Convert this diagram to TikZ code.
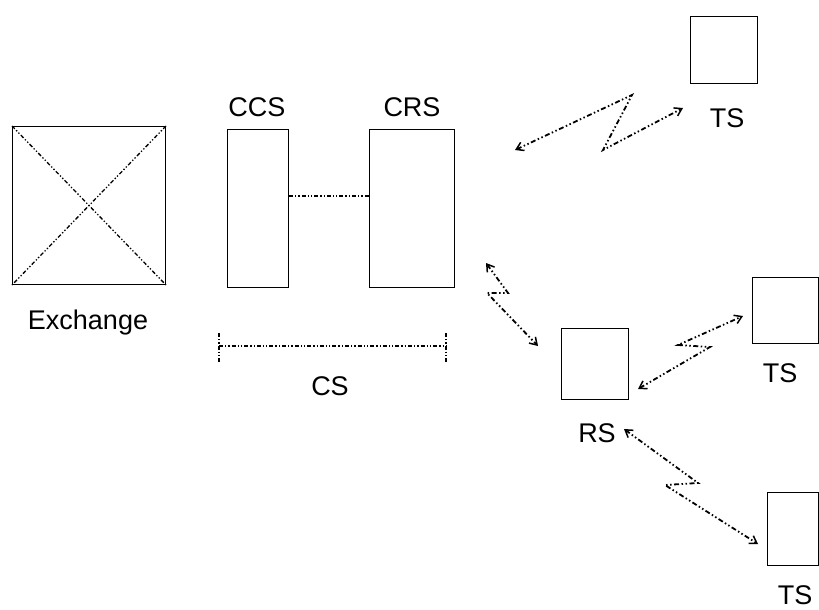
\documentclass[tikz,border=0pt]{standalone}
\usepackage{fontspec}
\setmainfont{Liberation Sans}
\usetikzlibrary{arrows.meta}
\begin{document}
\begin{tikzpicture}[x=1pt,y=-1pt,
  box/.style={draw, line width=1pt, inner sep=0pt, anchor=north west},
  lbl/.style={anchor=base, inner sep=0pt, font=\fontsize{27}{32}\selectfont},
  dd/.style={line width=1.3pt, dash pattern=on 4pt off 2pt on 1.3pt off 2pt on 1.3pt off 2pt},
  bolt/.style={line width=1.8pt, dash pattern=on 5pt off 2.5pt on 1.5pt off 2.5pt on 1.5pt off 2.5pt,
    {Straight Barb[length=7pt,width=9pt,line width=1.5pt]}-{Straight Barb[length=7pt,width=9pt,line width=1.5pt]}}
]
\useasboundingbox (0,0) rectangle (819,610);
% boxes
\node[box, minimum width=153pt, minimum height=158pt] (ex) at (12,126) {};
\node[box, minimum width=61pt, minimum height=158pt] (ccs) at (227,129) {};
\node[box, minimum width=85pt, minimum height=158pt] (crs) at (369,129) {};
\node[box, minimum width=67pt, minimum height=67pt] (ts1) at (690,16) {};
\node[box, minimum width=66pt, minimum height=66pt] (ts2) at (752,277) {};
\node[box, minimum width=67pt, minimum height=71pt] (rs) at (561,328) {};
\node[box, minimum width=51pt, minimum height=73pt] (ts3) at (767,492) {};
% labels
\node[lbl] (lex) at (88,329) {Exchange};
\node[lbl] (lccs) at (257,116) {CCS};
\node[lbl] (lcrs) at (412,116) {CRS};
\node[lbl] (lcs) at (330,395) {CS};
\node[lbl] (lts1) at (727,127) {TS};
\node[lbl] (lts2) at (780,382) {TS};
\node[lbl] (lrs) at (597,442) {RS};
\node[lbl] (lts3) at (795,604) {TS};
% exchange cross
\draw[dd] (ex.north west) -- (ex.south east);
\draw[dd] (ex.north east) -- (ex.south west);
% CCS - CRS link
\draw[dd] (ccs.east |- 0,196) -- (crs.west |- 0,196);
% CS dimension
\coordinate (csl) at (219,346);
\coordinate (csr) at (446,346);
\draw[dd] (csl) -- (csr);
\draw[dd] (219,333) -- (219,362);
\draw[dd] (446,333) -- (446,362);
% lightning links
\coordinate (a1) at (515,150);
\coordinate (b1) at (683,108);
\draw[bolt] (a1) -- (632,95) -- (603,150) -- (b1);
\coordinate (a2) at (486,263);
\coordinate (b2) at (538,346);
\draw[bolt] (a2) -- (508,293) -- (487,293) -- (b2);
\coordinate (a3) at (638,389);
\coordinate (b3) at (743,316);
\draw[bolt] (a3) -- (710,347) -- (678,345) -- (b3);
\coordinate (a4) at (624,429);
\coordinate (b4) at (758,544);
\draw[bolt] (a4) -- (698,483) -- (665,485) -- (b4);
\end{tikzpicture}
\end{document}
